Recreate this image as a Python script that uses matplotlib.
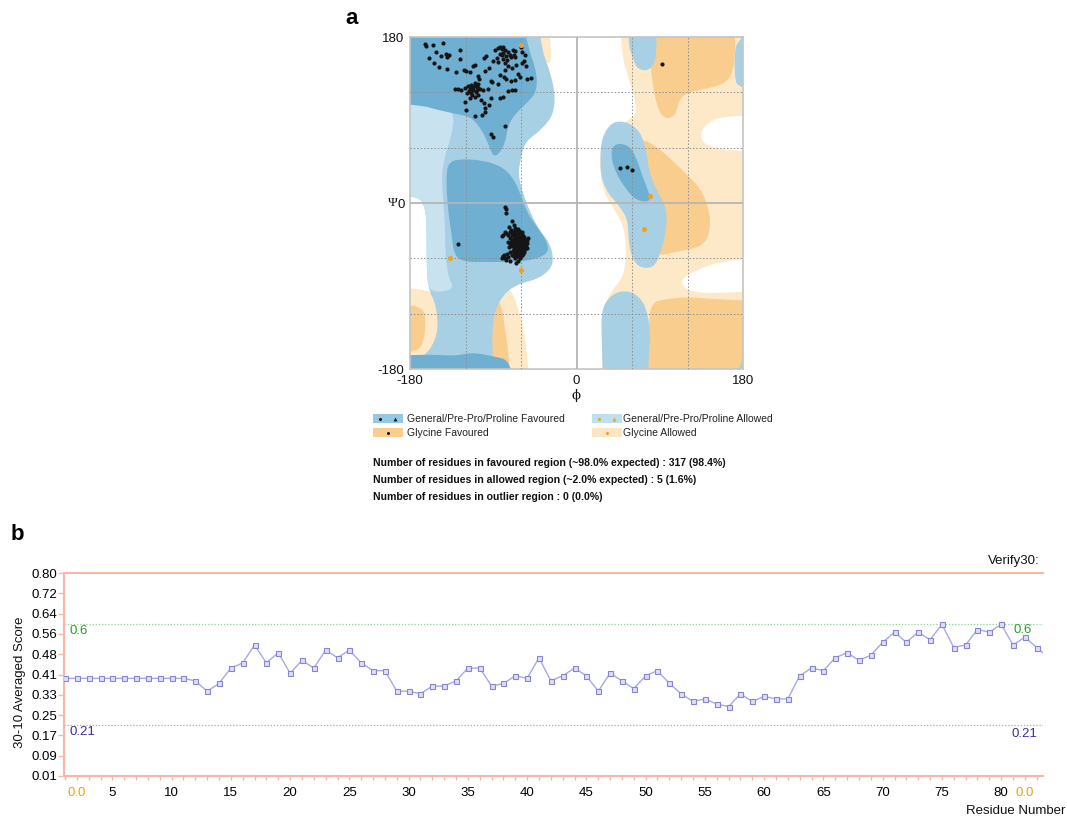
import numpy as np
import matplotlib
matplotlib.use('Agg')
import matplotlib.pyplot as plt
from matplotlib.patches import Polygon, Rectangle

plt.rcParams['font.family'] = ['Liberation Sans', 'DejaVu Sans']

# ------------------------------------------------------------------
# panel a : Ramachandran plot, every value is (phi, psi) in degrees
# ------------------------------------------------------------------
beta_points = [
    (-164, 172), (-163, 170), (-155, 171), (-144, 173), (-126, 166), (-152, 164),
    (-141, 162), (-138, 160), (-160, 157), (-146, 159), (-140, 158), (-154, 152),
    (-149, 147), (-140, 145), (-126, 156), (-122, 144), (-120, 143), (-112, 149),
    (-110, 150), (-100, 157), (-98, 159), (-88, 166), (-85, 168), (-83, 169),
    (-81, 167), (-79, 169), (-77, 166), (-74, 164), (-69, 166), (-67, 165),
    (-68, 161), (-71, 158), (-76, 159), (-81, 160), (-86, 157), (-90, 154),
    (-85, 153), (-77, 152), (-74, 149), (-70, 146), (-77, 144), (-83, 139),
    (-78, 137), (-76, 135), (-63, 140), (-61, 137), (-57, 154), (-59, 152),
    (-55, 149), (-56, 160), (-59, 164), (-60, 169), (-54, 135), (-49, 136),
    (-65, 150), (-67, 133), (-71, 132), (-79, 163), (-83, 162), (-72, 160),
    (-75, 155), (-80, 156), (-66, 158),
    (-131, 124), (-128, 124), (-125, 123), (-121, 125), (-117, 127), (-114, 128),
    (-112, 126), (-109, 128), (-107, 129), (-110, 130), (-115, 124), (-106, 125),
    (-104, 124), (-108, 123), (-118, 119), (-113, 117), (-110, 115), (-115, 114),
    (-106, 117), (-101, 123), (-105, 135), (-107, 138), (-96, 124), (-92, 132),
    (-91, 131), (-92, 114), (-103, 112), (-100, 108), (-95, 106), (-99, 103),
    (-99, 99), (-102, 95), (-110, 94), (-119, 101), (-121, 110), (-83, 114),
    (-80, 115), (-74, 121), (-70, 123), (-67, 122), (-77, 84), (-92, 75),
    (-90, 72), (-85, 129), (-130, 142), (-115, 142), (-99, 143), (-95, 146),
    (-112, 122), (-109, 120), (-113, 125), (-116, 121), (-108, 126), (-111, 127),
    (-114, 119),
]

alpha_points = [
    (-77, -4), (-76, -7), (-76, -11), (-70, -19), (-68, -24), (-73, -26),
    (-77, -31), (-79, -35), (-81, -36), (-76, -33), (-72, -31), (-67, -29),
    (-63, -28), (-61, -31), (-59, -34), (-57, -37), (-56, -40), (-54, -40),
    (-52, -38), (-65, -35), (-68, -37), (-70, -40), (-74, -42), (-72, -44),
    (-68, -46), (-65, -43), (-61, -44), (-57, -44), (-67, -49), (-65, -51),
    (-63, -55), (-61, -49), (-59, -53), (-65, -58), (-61, -60), (-63, -63),
    (-79, -58), (-77, -60), (-76, -62), (-81, -60), (-74, -59), (-72, -63),
    (-65, -65), (-66, -38), (-63, -40), (-60, -41), (-58, -46), (-62, -46),
    (-65, -47), (-67, -41), (-69, -44), (-64, -37), (-61, -37), (-59, -39),
    (-56, -43), (-60, -48), (-63, -50), (-66, -53), (-61, -53), (-58, -50),
    (-68, -50), (-70, -47), (-72, -38), (-65, -44), (-62, -43), (-60, -44),
    (-64, -41), (-67, -35), (-63, -33), (-57, -41), (-55, -46), (-59, -56),
    (-63, -57), (-66, -56), (-62, -39), (-64, -48), (-61, -50), (-68, -39),
    (-70, -35), (-58, -36), (-65, -30), (-62, -30), (-69, -31), (-71, -29),
    (-60, -58), (-57, -53), (-54, -49), (-66, -60), (-68, -55), (-73, -48),
    (-74, -35), (-67, -27), (-64, -45), (-62, -48), (-60, -46), (-58, -43),
    (-66, -45), (-63, -52), (-59, -51), (-67, -43), (-65, -39), (-61, -42),
    (-57, -48), (-63, -44), (-60, -39), (-66, -50), (-62, -55), (-58, -55),
    (-69, -52), (-71, -42), (-64, -34), (-59, -31), (-62, -36), (-66, -33),
    (-68, -58), (-70, -56), (-72, -53), (-75, -55), (-78, -56), (-56, -50),
    (-55, -44), (-53, -43),
]

other_points = [(-128, -44), (92, 151), (47, 38), (55, 39), (60, 36)]

glycine_points = [(-60, 171), (-137, -60), (-60, -73), (79, 8), (73, -28)]

# region outlines, (phi, psi); 180 means "on the frame"
gly_allowed = [
    [(45, 180), (180, 180), (180, -180), (29, -180), (27, -144), (31, -108),
     (40, -93), (51, -79), (54, -53), (51, -24), (40, -6), (27, 16), (24, 63),
     (40, 83), (58, 90), (65, 99), (62, 117), (55, 139), (49, 161)],
    [(-180, -93), (-158, -92), (-148, -110), (-146, -130), (-148, -150),
     (-160, -168), (-180, -175)],
    [(-80, -88), (-70, -95), (-63, -115), (-57, -137), (-54, -158), (-48, -180),
     (-92, -180), (-92, -120)],
    [(-47, 180), (-33, 180), (-27, 165), (-29, 148), (-38, 160)],
]

white_gaps = [
    [(180, 97), (156, 94), (141, 86), (134, 77), (136, 66), (145, 61),
     (163, 57), (180, 55)],
    [(180, -55), (152, -64), (130, -73), (116, -80), (113, -88), (121, -95),
     (141, -98), (163, -97), (180, -95)],
]

gly_favoured = [
    [(80, 180), (170, 180), (172, 161), (168, 139), (159, 129), (141, 124),
     (120, 120), (111, 112), (107, 95), (98, 91), (90, 97), (85, 114),
     (82, 132), (80, 150)],
    [(69, 70), (84, 63), (102, 48), (120, 30), (134, 16), (142, -3), (145, -21),
     (142, -39), (132, -48), (114, -52), (98, -55), (88, -57), (86, -39),
     (84, -17), (80, 8), (76, 30), (72, 52)],
    [(80, -108), (98, -104), (120, -102), (145, -104), (180, -108), (180, -180),
     (76, -180), (78, -140)],
    [(-180, -108), (-166, -110), (-163, -130), (-165, -150), (-172, -162),
     (-180, -165)],
    [(-92, -100), (-86, -103), (-80, -115), (-77, -140), (-73, -165),
     (-70, -180), (-92, -180)],
]

general_allowed = [
    [(-180, 180), (-45, 180), (-38, 168), (-30, 146), (-25, 128), (-23, 110),
     (-27, 92), (-41, 77), (-56, 66), (-61, 45), (-63, 30), (-57, 8), (-50, -10),
     (-41, -28), (-30, -42), (-25, -57), (-27, -71), (-41, -82), (-63, -88),
     (-77, -97), (-88, -115), (-91, -137), (-91, -158), (-87, -180),
     (-180, -180), (-180, -173), (-175, -171), (-160, -162), (-151, -144),
     (-150, -126), (-153, -108), (-160, -93), (-162, -71), (-162, -35),
     (-163, -6), (-171, 8), (-180, 12)],
    [(37, 86), (47, 89), (58, 86), (69, 77), (75, 59), (78, 37), (84, 19),
     (94, 1), (98, -13), (96, -35), (91, -53), (85, -68), (76, -71), (65, -68),
     (58, -53), (56, -35), (55, -17), (46, -3), (33, 12), (26, 30), (26, 59),
     (29, 74)],
    [(56, 180), (85, 180), (87, 168), (84, 150), (76, 143), (65, 146),
     (60, 160), (56, 172)],
    [(33, -104), (47, -95), (62, -97), (73, -108), (78, -126), (80, -144),
     (78, -166), (76, -180), (30, -180), (27, -144), (27, -119)],
    [(180, 180), (174, 176), (171, 164), (171, 139), (174, 124), (180, 119)],
    [(180, -150), (175, -160), (172, -180), (180, -180)],
]

pale_allowed = [
    [(-180, 104), (-164, 108), (-142, 106), (-132, 95), (-135, 74), (-142, 52),
     (-146, 30), (-144, 1), (-142, -28), (-142, -53), (-139, -79), (-132, -93),
     (-150, -97), (-160, -93), (-162, -71), (-162, -35), (-163, -6), (-171, 8),
     (-180, 12)],
]

general_favoured = [
    [(-180, 180), (-66, 180), (-52, 168), (-43, 142), (-43, 121), (-52, 110),
     (-66, 97), (-74, 84), (-77, 66), (-83, 54), (-90, 50), (-95, 63),
     (-101, 77), (-113, 93), (-132, 97), (-150, 101), (-168, 106), (-180, 110)],
    [(-139, 45), (-121, 48), (-95, 45), (-77, 37), (-66, 23), (-59, 5),
     (-52, -13), (-41, -28), (-32, -42), (-30, -53), (-41, -60), (-63, -64),
     (-95, -64), (-121, -64), (-132, -57), (-135, -35), (-139, -6), (-141, 23)],
    [(-180, -167), (-157, -164), (-132, -166), (-113, -162), (-91, -166),
     (-70, -171), (-65, -180), (-180, -180)],
    [(38, 61), (47, 65), (58, 61), (65, 48), (71, 30), (78, 12), (80, 3),
     (73, 1), (62, 5), (53, 16), (44, 30), (38, 46)],
]

legend_labels = ['General/Pre-Pro/Proline Favoured', 'Glycine Favoured',
                 'General/Pre-Pro/Proline Allowed', 'Glycine Allowed']
summary_lines = [
    'Number of residues in favoured region (~98.0% expected) : 317 (98.4%)',
    'Number of residues in allowed region (~2.0% expected) : 5 (1.6%)',
    'Number of residues in outlier region : 0 (0.0%)',
]

# ------------------------------------------------------------------
# panel b : Verify3D averaged score per residue
# ------------------------------------------------------------------
residue = np.arange(1, 85)
score = [0.39, 0.39, 0.39, 0.39, 0.39, 0.39, 0.39, 0.39, 0.39, 0.39,
         0.39, 0.38, 0.34, 0.37, 0.43, 0.45, 0.52, 0.45, 0.49, 0.41,
         0.46, 0.43, 0.50, 0.47, 0.50, 0.45, 0.42, 0.42, 0.34, 0.34,
         0.33, 0.36, 0.36, 0.38, 0.43, 0.43, 0.36, 0.37, 0.40, 0.39,
         0.47, 0.38, 0.40, 0.43, 0.40, 0.34, 0.41, 0.38, 0.35, 0.40,
         0.42, 0.37, 0.33, 0.30, 0.31, 0.29, 0.28, 0.33, 0.30, 0.32,
         0.31, 0.31, 0.40, 0.43, 0.42, 0.47, 0.49, 0.46, 0.48, 0.53,
         0.57, 0.53, 0.57, 0.54, 0.60, 0.51, 0.52, 0.58, 0.57, 0.60,
         0.52, 0.55, 0.51, 0.47]
upper_limit = 0.6
lower_limit = 0.21
ytick_values = np.linspace(0.01, 0.80, 11)
ytick_labels = ['0.01', '0.09', '0.17', '0.25', '0.33', '0.41', '0.48',
                '0.56', '0.64', '0.72', '0.80']

# ------------------------------------------------------------------
W, H = 1067, 816
fig = plt.figure(figsize=(W / 100, H / 100), dpi=100)


def px_axes(left, top, width, height, **kw):
    # axes placed with pixel numbers measured from the top left corner
    return fig.add_axes([left / W, 1 - (top + height) / H, width / W, height / H], **kw)


def smooth_outline(points, n=3):
    # Chaikin corner cutting on a closed outline, frame vertices pushed out
    pts = np.asarray(points, dtype=float)
    pts = np.where(np.abs(pts) >= 180, np.sign(pts) * 230, pts)
    for _ in range(n):
        nxt = np.roll(pts, -1, axis=0)
        q = 0.75 * pts + 0.25 * nxt
        r = 0.25 * pts + 0.75 * nxt
        pts = np.empty((2 * len(q), 2))
        pts[0::2] = q
        pts[1::2] = r
    return pts


# overlay in pixel units for free text and the legend
ax_t = fig.add_axes([0, 0, 1, 1])
ax_t.set_xlim(0, W)
ax_t.set_ylim(H, 0)
ax_t.axis('off')

# ---------------- panel a ----------------
ax_a = px_axes(410, 37, 333, 332)
ax_a.set_xlim(-180, 180)
ax_a.set_ylim(-180, 180)

cream = '#fde8c8'
orange = '#f8cd8e'
light_blue = '#a8d0e4'
pale_blue = '#c8e3ef'
dark_blue = '#6fafd2'

layers = [(gly_allowed, cream), (white_gaps, 'white'), (gly_favoured, orange),
          (general_allowed, light_blue), (pale_allowed, pale_blue),
          (general_favoured, dark_blue)]
z = 1.0
for outlines, colour in layers:
    for outline in outlines:
        ax_a.add_patch(Polygon(smooth_outline(outline), closed=True, fc=colour,
                               ec='none', zorder=z))
    z += 0.1

for v in (-120, -60, 60, 120):
    ax_a.axvline(v, color='#8e8e8e', lw=0.7, ls=(0, (1.5, 2)), zorder=3)
    ax_a.axhline(v, color='#8e8e8e', lw=0.7, ls=(0, (1.5, 2)), zorder=3)
ax_a.axvline(0, color='#b5b5b5', lw=1.3, zorder=3)
ax_a.axhline(0, color='#b5b5b5', lw=1.3, zorder=3)

black_pts = np.array(beta_points + alpha_points + other_points)
gly_pts = np.array(glycine_points)
ax_a.scatter(black_pts[:, 0], black_pts[:, 1], s=9, c='#151515', lw=0, zorder=5)
ax_a.scatter(gly_pts[:, 0], gly_pts[:, 1], s=14, c='#f0a02a', lw=0, zorder=5)

ax_a.set_xticks([-180, 0, 180])
ax_a.set_xticklabels(['-180', '0', '180'])
ax_a.set_yticks([-180, 0, 180])
ax_a.set_yticklabels(['-180', '0', '180'])
ax_a.tick_params(length=0, pad=4, labelsize=9.5, labelcolor='#111111')
for s in ax_a.spines.values():
    s.set_color('#c4c4c4')
    s.set_linewidth(1.2)

ax_t.text(398, 203, 'Ψ', ha='right', va='center', fontsize=9.5,
          family=['Liberation Serif', 'DejaVu Serif'], color='#111111')
ax_t.text(576, 395, 'ϕ', ha='center', va='center', fontsize=9.5,
          family=['DejaVu Serif'], color='#111111')
ax_t.text(352, 18, 'a', ha='center', va='center', fontsize=16, weight='bold')

# legend of panel a
legend_boxes = [(373, 414, '#94c9e5', ['#151515', '#151515']),
                (373, 428, orange, ['#151515']),
                (592, 414, '#bfe0ef', ['#f0a02a', '#f0a02a']),
                (592, 428, '#fbe5c2', ['#f0a02a'])]
legend_text_x = [407, 407, 623, 623]
for (bx, by, fc, marks), label, tx in zip(legend_boxes, legend_labels, legend_text_x):
    ax_t.add_patch(Rectangle((bx, by), 30, 9, fc=fc, ec='none'))
    if len(marks) == 2:
        ax_t.plot(bx + 7, by + 4.5, 'o', ms=2.2, color=marks[0], mew=0)
        ax_t.plot(bx + 22, by + 4.5, '^', ms=2.8, color=marks[1], mew=0)
    else:
        ax_t.plot(bx + 15, by + 4.5, 'o', ms=2.2, color=marks[0], mew=0)
    ax_t.text(tx, by + 4.5, label, ha='left', va='center', fontsize=7.5,
              color='#222222')

for i, line in enumerate(summary_lines):
    ax_t.text(373, 463 + 17 * i, line, ha='left', va='center', fontsize=7.6,
              weight='bold', color='#111111')

# ---------------- panel b ----------------
pink = '#f7b6a6'
fs = 9.5
ax_b = px_axes(64, 573, 979, 203)
ax_b.plot(residue, score, color='#a8a8e6', lw=1.0, marker='s', ms=3.6,
          mfc='#dedef7', mec='#8585d4', mew=0.8, zorder=4)
ax_b.axhline(upper_limit, color='#8fd08f', lw=0.9, ls=(0, (1, 1.5)), zorder=2)
ax_b.axhline(lower_limit, color='#a4a4de', lw=0.9, ls=(0, (1, 1.5)), zorder=2)
ax_b.set_xlim(0.92, 83.53)
ax_b.set_ylim(0.01, 0.80)

ax_b.set_yticks(ytick_values)
ax_b.set_yticklabels(ytick_labels)
xt = np.arange(1, 84)
ax_b.set_xticks(xt)
xlabels = [str(v) if v % 5 == 0 else '' for v in xt]
xlabels[1] = '0.0'
xlabels[81] = '0.0'
ax_b.set_xticklabels(xlabels)
for lab in ax_b.get_xticklabels():
    if lab.get_text() == '0.0':
        lab.set_color('#f2a000')
ax_b.tick_params(axis='x', length=3, width=1, color=pink, pad=5, labelsize=fs)
ax_b.tick_params(axis='y', length=4, width=1, color=pink, pad=1, labelsize=fs)
for side in ('top', 'left', 'bottom'):
    ax_b.spines[side].set_color(pink)
    ax_b.spines[side].set_linewidth(1.5)
ax_b.spines['right'].set_visible(False)

ax_b.text(1.4, 0.573, '0.6', color='#2b9e2b', fontsize=fs, va='center')
ax_b.text(81.0, 0.578, '0.6', color='#2b9e2b', fontsize=fs, va='center')
ax_b.text(1.35, 0.182, '0.21', color='#3b2f9f', fontsize=fs, va='center')
ax_b.text(80.9, 0.173, '0.21', color='#3b2f9f', fontsize=fs, va='center')

ax_t.text(20, 682, '30-10 Averaged Score', rotation=90, ha='center',
          va='center', fontsize=fs, color='#111111')
ax_t.text(1040, 561, 'Verify30:', ha='right', va='center', fontsize=fs,
          color='#111111')
ax_t.text(1065, 811, 'Residue Number', ha='right', va='center', fontsize=fs,
          color='#111111')
ax_t.text(17, 535, 'b', ha='center', va='center', fontsize=16, weight='bold')

fig.savefig('out.png', dpi=100)
